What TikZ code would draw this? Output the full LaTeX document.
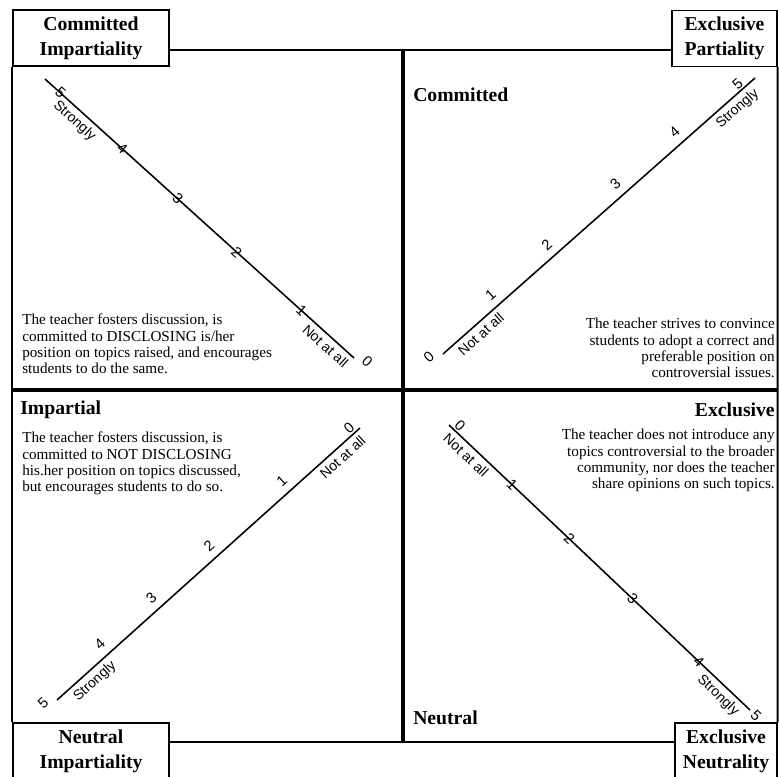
\documentclass[tikz,border=0pt]{standalone}
\usepackage{fontspec}
\setmainfont{Liberation Serif}
\newfontfamily\lblfont{Liberation Sans}
\begin{document}
\begin{tikzpicture}[x=0.025cm,y=-0.025cm,
    corner/.style={draw,line width=1pt,align=center,inner sep=0pt,
      minimum width=3.9cm,minimum height=1.4cm,
      font=\fontsize{14}{17.5}\selectfont\bfseries},
    side/.style={inner sep=0pt,font=\fontsize{14}{16}\selectfont\bfseries},
    blurb/.style={inner sep=0pt,font=\fontsize{10.8}{11.6}\selectfont},
    frame/.style={line width=1.4pt},
    axis/.style={line width=2.2pt},
    scaleline/.style={line width=1.1pt},
    num/.style={sloped,inner sep=1pt,font=\fontsize{10.5}{11}\selectfont\lblfont},
    endlbl/.style={sloped,below=2pt,inner sep=1pt,font=\fontsize{10}{10}\selectfont\lblfont}]
%    \draw (0,0) to[grid with coordinates] (779,777);
    \useasboundingbox (0,0) rectangle (779,777);

    \node[corner](comm-imp) at (91,38) {Committed\\Impartiality};
    \node[corner,minimum width=2.625cm](excl-part) at (724.5,38.5) {Exclusive\\Partiality};
    \node[corner](neut-imp) at (91,751) {Neutral\\Impartiality};
    \node[corner,minimum width=2.55cm](excl-neut) at (726,751) {Exclusive\\Neutrality};

    \coordinate(top)    at (403,50);
    \coordinate(bottom) at (403,742);
    \coordinate(mid)    at (403,390);

    \draw[frame] (comm-imp.east |- top)    to (excl-part.west |- top);
    \draw[frame] (neut-imp.east |- bottom) to (excl-neut.west |- bottom);
    \draw[frame] (comm-imp.south west)     to (neut-imp.north west);
    \draw[frame] (excl-part.south east)    to (excl-neut.north east);
    \draw[axis]  (comm-imp.west |- mid)    to (excl-part.east |- mid);
    \draw[axis]  (top) to (bottom);

    \node[side,anchor=west](committed) at (413,95)  {Committed};
    \node[side,anchor=west](impartial) at (20,410)  {Impartial};
    \node[side,anchor=east](exclusive) at (775,410) {Exclusive};
    \node[side,anchor=west](neutral)   at (413,718) {Neutral};

    \node[blurb,anchor=north west,align=left](txt-ci) at (22,314)
      {The teacher fosters discussion, is\\committed to DISCLOSING is/her\\position on topics raised, and encourages\\students to do the same.};
    \node[blurb,anchor=north east,align=right](txt-ep) at (775,318)
      {The teacher strives to convince\\students to adopt a correct and\\preferable position on\\controversial issues.};
    \node[blurb,anchor=north west,align=left](txt-ni) at (22,432)
      {The teacher fosters discussion, is\\committed to NOT DISCLOSING\\his.her position on topics discussed,\\but encourages students to do so.};
    \node[blurb,anchor=north east,align=right](txt-en) at (775,429)
      {The teacher does not introduce any\\topics controversial to the broader\\community, nor does the teacher\\share opinions on such topics.};

    \coordinate(tl-0) at (354,358); \coordinate(tl-5) at (45,79);
    \coordinate(tr-0) at (443,354); \coordinate(tr-5) at (755,78);
    \coordinate(bl-0) at (360,428); \coordinate(bl-5) at (57,700);
    \coordinate(br-0) at (449,425); \coordinate(br-5) at (750,710);

    \draw[scaleline] (tl-0) to
      node[num,above=-1pt,pos=-.03]{0} node[num,pos=.17]{1} node[num,pos=.38]{2}
      node[num,pos=.57]{3} node[num,pos=.75]{4} node[num,pos=.95]{5}
      node[endlbl,pos=.07]{Not at all} node[endlbl,pos=.88]{Strongly} (tl-5);
    \draw[scaleline] (tr-0) to
      node[num,above,pos=-.03]{0} node[num,above=4pt,pos=.18]{1} node[num,above=4pt,pos=.36]{2}
      node[num,above=4pt,pos=.58]{3} node[num,above=4pt,pos=.77]{4} node[num,above,pos=.96]{5}
      node[endlbl,pos=.1]{Not at all} node[endlbl,pos=.92]{Strongly} (tr-5);
    \draw[scaleline] (bl-0) to
      node[num,above,pos=.02]{0} node[num,above=4pt,pos=.23]{1} node[num,above=4pt,pos=.47]{2}
      node[num,above=4pt,pos=.66]{3} node[num,above=4pt,pos=.83]{4} node[num,above,pos=1.03]{5}
      node[endlbl,pos=.08]{Not at all} node[endlbl,pos=.9]{Strongly} (bl-5);
    \draw[scaleline] (br-0) to
      node[num,above,pos=.02]{0} node[num,pos=.21]{1} node[num,pos=.4]{2}
      node[num,pos=.61]{3} node[num,pos=.83]{4} node[num,pos=1.02]{5}
      node[endlbl,pos=.08]{Not at all} node[endlbl,pos=.92]{Strongly} (br-5);
\end{tikzpicture}
\end{document}
